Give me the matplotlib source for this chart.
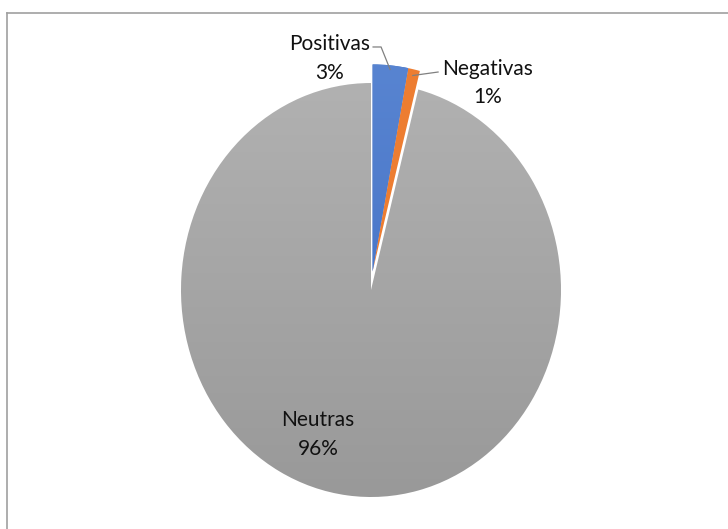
import numpy as np
import matplotlib.pyplot as plt
from matplotlib.lines import Line2D
from matplotlib.colors import LinearSegmentedColormap

plt.rcParams['font.family'] = ['Lato', 'DejaVu Sans']

labels = ['Positivas', 'Negativas', 'Neutras']
values = [3, 1, 96]
colors = ['#4472C4', '#ED7D31', '#A5A5A5']
explode = [0.09, 0.09, 0.0]

W, H = 728, 529
cx_px, cy_px, rx_px, ry_px = 371, 290, 190, 207   # pie ellipse in pixels
lim = 1.25

fig = plt.figure(figsize=(W / 100, H / 100), dpi=100)
ax = fig.add_axes([(cx_px - lim * rx_px) / W, (H - cy_px - lim * ry_px) / H,
                   2 * lim * rx_px / W, 2 * lim * ry_px / H])

wedges, _ = ax.pie(values, colors=colors, explode=explode, startangle=90,
                   counterclock=False, wedgeprops=dict(linewidth=0))
# the two small slices are pulled out together
wedges[1].set_center(wedges[0].center)
ax.set_aspect('auto')
ax.axis('off')

# soft vertical gradients, like the Excel fill
grad = np.linspace(0, 1, 256).reshape(-1, 1)
ext = (-lim, lim, -lim, lim)
cmap_g = LinearSegmentedColormap.from_list('g', ['#B4B4B4', '#969696'])
im = ax.imshow(grad, cmap=cmap_g, extent=ext, aspect='auto', zorder=0.5)
im.set_clip_path(wedges[2])
wedges[2].set_facecolor('none')

cmap_b = LinearSegmentedColormap.from_list('b', ['#5A86D2', '#3A68C0'])
imb = ax.imshow(grad, cmap=cmap_b, extent=ext, aspect='auto', zorder=1.5)
imb.set_clip_path(wedges[0])

ax.set_xlim(-lim, lim)
ax.set_ylim(-lim, lim)

tkw = dict(fontsize=15, ha='center', va='center', linespacing=1.55, color='#111111')
ax.text(-0.216, 1.118, '%s\n%d%%' % (labels[0], values[0]), **tkw)
ax.text(0.616, 1.0, '%s\n%d%%' % (labels[1], values[1]), **tkw)
ax.text(-0.279, -0.70, '%s\n%d%%' % (labels[2], values[2]), **tkw)

# leader lines
cx, cy = wedges[0].center
a0 = np.deg2rad((wedges[0].theta1 + wedges[0].theta2) / 2)
p0 = (cx + np.cos(a0) * 0.98, cy + np.sin(a0) * 0.98)
ax.plot([0.011, 0.053, p0[0]], [1.174, 1.174, p0[1]], color='#808080',
        lw=0.9, zorder=3)
cx, cy = wedges[1].center
a1 = np.deg2rad((wedges[1].theta1 + wedges[1].theta2) / 2)
p1 = (cx + np.cos(a1) * 0.97, cy + np.sin(a1) * 0.97)
ax.plot([p1[0], 0.353], [p1[1], 1.053], color='#808080', lw=0.9, zorder=3)

# frame lines (top and left only, cropped screenshot)
fig.add_artist(Line2D([7 / W, 1], [1 - 13 / H, 1 - 13 / H],
                      color='#A0A0A0', lw=1.2, transform=fig.transFigure))
fig.add_artist(Line2D([7 / W, 7 / W], [0, 1 - 13 / H],
                      color='#A0A0A0', lw=1.2, transform=fig.transFigure))

fig.savefig('out.png', dpi=100)
